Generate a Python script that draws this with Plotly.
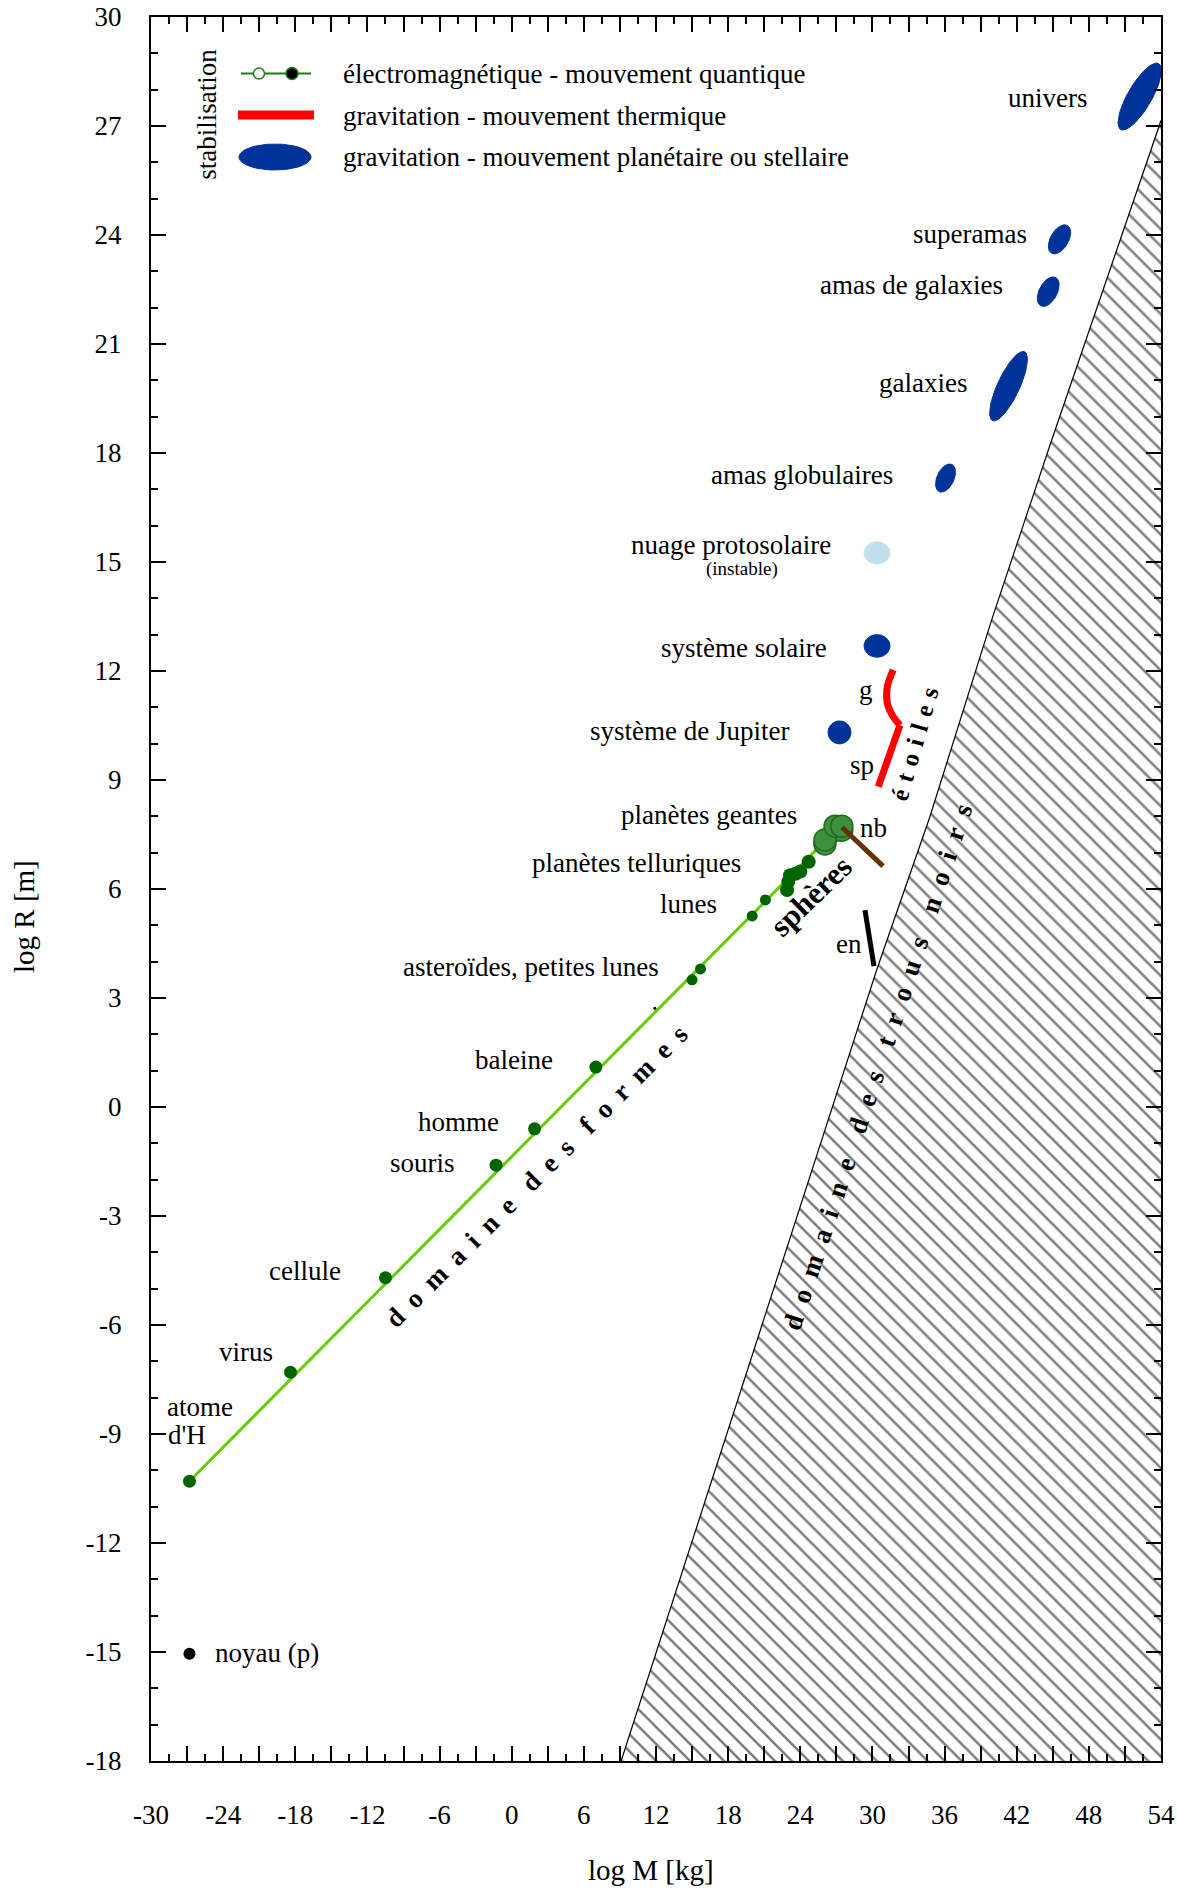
import numpy as np
import plotly.graph_objects as go

# ---------------- data ----------------
X_RANGE = [-30, 54]
Y_RANGE = [-18, 30]
x_tick_vals = list(range(-30, 55, 3))
x_tick_text = [str(v) if v % 6 == 0 else "" for v in x_tick_vals]
y_tick_vals = list(range(-18, 31, 3))
y_tick_text = [str(v) for v in y_tick_vals]

# line of "forms" (electromagnetic stabilisation)
forms_line_M = [-26.8, 26.3]
forms_line_R = [-10.3, 7.4]

forms_names = ["atome d'H", "virus", "cellule", "souris", "homme", "baleine"]
forms_M = [-26.8, -18.4, -10.5, -1.3, 1.9, 7.0]
forms_R = [-10.3, -7.3, -4.7, -1.6, -0.6, 1.1]

small_M = [15.0, 15.7, 20.0, 21.1]
small_R = [3.5, 3.8, 5.26, 5.7]
tiny_M = [11.9]
tiny_R = [2.72]

telluric_M = [22.9, 23.0, 23.15, 23.6, 24.0, 24.7]
telluric_R = [5.97, 6.2, 6.38, 6.42, 6.48, 6.75]

giant_M = [26.05, 26.9, 27.45]
giant_R = [7.35, 7.73, 7.73]

# stars (thermal motion)
stars_g_M = [31.73, 31.24, 31.24, 31.73, 32.29]
stars_g_R = [12.03, 11.57, 11.11, 10.74, 10.51]
stars_sp_M = [32.29, 31.46, 30.49]
stars_sp_R = [10.51, 9.73, 8.82]
nb_M = [27.47, 30.88]
nb_R = [7.70, 6.63]
en_M = [29.38, 29.6, 30.13]
en_R = [5.42, 4.95, 3.88]

# gravitational systems (ellipses)
ell_names = ["univers", "superamas", "amas de galaxies", "galaxies",
             "amas globulaires", "nuage protosolaire", "système solaire",
             "système de Jupiter"]
ell_M = [52.23, 45.56, 44.62, 41.32, 36.08, 30.38, 30.38, 27.26]
ell_R = [27.81, 23.88, 22.44, 19.84, 17.31, 15.25, 12.69, 10.31]

# black holes domain boundary
bh_M = [9.1, 30.35, 34.78, 39.91, 44.77, 54.0]
bh_R = [-18.0, 3.77, 7.99, 13.40, 18.22, 27.15]

noyau_M = [-26.8]
noyau_R = [-15.05]

# ---------------- styles ----------------
OFF = 0  # page body margin (removed by post_script)
W, H = 1177, 1890
ML, MR, MT, MB = 151, 16, 17, 129
PW, PH = W - ML - MR, H - MT - MB
PXX = PW / (X_RANGE[1] - X_RANGE[0])
PXY = PH / (Y_RANGE[1] - Y_RANGE[0])

ell_a = [38, 16, 16, 38, 15, 13, 13, 11.5]
ell_b = [12, 9, 9, 11, 8.5, 11, 11.3, 11.5]
ell_ang = [60, 60, 62, 65, 65, 0, 0, 0]
BLUE = "#003399"
LIGHTBLUE = "#c0e0f0"
ell_col = [BLUE, BLUE, BLUE, BLUE, BLUE, LIGHTBLUE, BLUE, BLUE]

LIME = "#66cc00"
DKGREEN = "#006400"
FONT = "Liberation Serif"
LBL = 27


def px2data(x, y):
    """page pixel -> data coordinates"""
    return (X_RANGE[0] + (x - OFF - ML) / PXX,
            Y_RANGE[1] - (y - OFF - MT) / PXY)


def px2paper(x, y):
    return (x - OFF - ML) / PW, (H - (y - OFF) - MB) / PH


def ellipse(cm, cr, a, b, ang):
    t = np.linspace(0, 2 * np.pi, 73)
    th = np.radians(ang)
    dx = a * np.cos(th) * np.cos(t) - b * np.sin(th) * np.sin(t)
    dy = a * np.sin(th) * np.cos(t) + b * np.cos(th) * np.sin(t)
    return cm + dx / PXX, cr + dy / PXY


fig = go.Figure()

# hatched black-hole domain
fig.add_trace(go.Scatter(
    x=bh_M + [X_RANGE[1], bh_M[0]], y=bh_R + [Y_RANGE[0], Y_RANGE[0]],
    fill="toself", mode="lines", line=dict(width=0, color="black"),
    fillcolor="white",
    fillpattern=dict(shape="\\", fgcolor="black", bgcolor="white", size=12, solidity=0.22),
    hoverinfo="skip"))
fig.add_trace(go.Scatter(x=bh_M, y=bh_R, mode="lines",
                         line=dict(color="black", width=1.2), hoverinfo="skip"))

# forms line and points
fig.add_trace(go.Scatter(x=forms_line_M, y=forms_line_R, mode="lines",
                         line=dict(color=LIME, width=3)))
fig.add_trace(go.Scatter(x=forms_M, y=forms_R, mode="markers",
                         marker=dict(color=DKGREEN, size=13)))
fig.add_trace(go.Scatter(x=small_M, y=small_R, mode="markers",
                         marker=dict(color=DKGREEN, size=11)))
fig.add_trace(go.Scatter(x=tiny_M, y=tiny_R, mode="markers",
                         marker=dict(color="black", size=3)))
fig.add_trace(go.Scatter(x=telluric_M, y=telluric_R, mode="markers",
                         marker=dict(color=DKGREEN, size=14)))
# giant planets (double discs)
off = 4 / PXY
fig.add_trace(go.Scatter(x=giant_M, y=[r - off for r in giant_R], mode="markers",
                         marker=dict(color="#3f8f3f", size=22,
                                     line=dict(color="#1e6e1e", width=1.5))))
fig.add_trace(go.Scatter(x=giant_M, y=giant_R, mode="markers",
                         marker=dict(color="#3f8f3f", size=22,
                                     line=dict(color="#1e6e1e", width=1.5))))

# stars
fig.add_trace(go.Scatter(x=stars_g_M, y=stars_g_R, mode="lines",
                         line=dict(color="red", width=7, shape="spline")))
fig.add_trace(go.Scatter(x=stars_sp_M, y=stars_sp_R, mode="lines",
                         line=dict(color="red", width=7)))
fig.add_trace(go.Scatter(x=nb_M, y=nb_R, mode="lines",
                         line=dict(color="#663300", width=5)))
fig.add_trace(go.Scatter(x=en_M, y=en_R, mode="lines",
                         line=dict(color="black", width=5)))

# ellipses
for m, r, a, b, ang, c in zip(ell_M, ell_R, ell_a, ell_b, ell_ang, ell_col):
    ex, ey = ellipse(m, r, a, b, ang)
    fig.add_trace(go.Scatter(x=ex, y=ey, mode="lines", fill="toself",
                             fillcolor=c, line=dict(color=c, width=1)))

# noyau
fig.add_trace(go.Scatter(x=noyau_M, y=noyau_R, mode="markers",
                         marker=dict(color="black", size=12)))

# ---------------- custom legend ----------------
lx0, ly = px2data(241, 73.6)
lx1, _ = px2data(311, 73.6)
fig.add_trace(go.Scatter(x=[lx0, lx1], y=[ly, ly], mode="lines",
                         line=dict(color="#1e7a1e", width=2)))
ox, _ = px2data(259, 73.6)
fx, _ = px2data(292, 73.6)
fig.add_trace(go.Scatter(x=[ox], y=[ly], mode="markers",
                         marker=dict(color="white", size=11, line=dict(color="#1e7a1e", width=1.5))))
fig.add_trace(go.Scatter(x=[fx], y=[ly], mode="markers",
                         marker=dict(color="black", size=12, line=dict(color="#1e7a1e", width=1.5))))
rx0, ry = px2data(238, 115)
rx1, _ = px2data(314, 115)
fig.add_trace(go.Scatter(x=[rx0, rx1], y=[ry, ry], mode="lines",
                         line=dict(color="red", width=9)))
bx, by = px2data(275, 157)
ex, ey = ellipse(bx, by, 36, 13, 0)
fig.add_trace(go.Scatter(x=ex, y=ey, mode="lines", fill="toself",
                         fillcolor=BLUE, line=dict(color=BLUE, width=1)))

annots = []


def label(text, xs, ys, size=LBL, anchor="center", angle=0, bold=False, shadow=None):
    m, r = px2data(xs * 1177 / 976, ys * 1177 / 976)
    f = dict(family=FONT, size=size, color="black")
    if bold:
        f["weight"] = "bold"
    if shadow:
        f["shadow"] = shadow
    annots.append(dict(x=m, y=r, xref="x", yref="y", text=text, showarrow=False,
                       xanchor=anchor, yanchor="middle", textangle=angle, font=f))


legend_texts = ["électromagnétique - mouvement quantique",
                "gravitation - mouvement thermique",
                "gravitation - mouvement planétaire ou stellaire"]
for t, ys in zip(legend_texts, [61, 96, 130]):
    label(t, 283, ys, anchor="left")
label("stabilisation", 171, 95, angle=-90)

# object labels (positions)
label("univers", 869, 81)
label("superamas", 804, 194)
label("amas de galaxies", 756, 236)
label("galaxies", 765, 318)
label("amas globulaires", 665, 394)
label("nuage protosolaire", 606, 452)
label("(instable)", 615, 472, size=19)
label("système solaire", 617, 537)
label("système de Jupiter", 572, 606)
label("g", 718, 572)
label("sp", 715, 634)
label("planètes geantes", 588, 676)
label("nb", 724, 687)
label("planètes telluriques", 528, 716)
label("lunes", 571, 750)
label("en", 704, 783)
label("asteroïdes, petites lunes", 440, 802)
label("baleine", 426, 879)
label("homme", 380, 930)
label("souris", 350, 964)
label("cellule", 253, 1054)
label("virus", 204, 1121)
label("atome", 166, 1167)
label("d'H", 138, 1190, anchor="left")
label("noyau (p)", 221, 1371)

NB = "\u00a0"
TH = "\u2009"


def spaced(words, g, w):
    return (w).join(g.join(word) for word in words)


label(spaced(["domaine", "des", "formes"], NB + TH, NB * 3), 445, 975, size=27, angle=-45, bold=True)
label(spaced(["domaine", "des", "trous", "noirs"], NB * 2, NB * 4), 728, 885, size=27, angle=-71.7,
      bold=True, shadow="0px 0px 3px white")
label(spaced(["étoiles"], NB + "\u200a", NB), 758, 617, size=25, angle=-74, bold=True)
label("sphères", 672, 743, size=31, angle=-44, bold=True)

# axis titles
tx, ty = px2paper(651, 1870)
annots.append(dict(x=tx, y=ty, xref="paper", yref="paper",
                   text="log M [kg]", showarrow=False, xanchor="center", yanchor="middle",
                   font=dict(family=FONT, size=29, color="black")))
tx, ty = px2paper(24, 917)
annots.append(dict(x=tx, y=ty, xref="paper", yref="paper",
                   text="log R [m]", showarrow=False, xanchor="center", yanchor="middle",
                   textangle=-90, font=dict(family=FONT, size=29, color="black")))

axis_common = dict(showline=True, linecolor="black", linewidth=2, mirror="ticks",
                   ticks="inside", ticklen=15, tickwidth=2, tickcolor="black",
                   showgrid=False, zeroline=False, ticklabeloverflow="allow",
                   automargin=False,
                   tickfont=dict(family=FONT, size=27, color="black"))

fig.update_xaxes(range=X_RANGE, tickmode="array", tickvals=x_tick_vals, ticktext=x_tick_text,
                 minor=dict(ticks="inside", ticklen=7, tickwidth=1.5, dtick=1.5, tick0=-30,
                            tickcolor="black", showgrid=False),
                 ticklabelstandoff=29, **axis_common)
fig.update_yaxes(range=Y_RANGE, tickmode="array", tickvals=y_tick_vals, ticktext=y_tick_text,
                 minor=dict(ticks="inside", ticklen=7, tickwidth=1.5, dtick=1, tick0=-18,
                            tickcolor="black", showgrid=False),
                 ticklabelstandoff=22, **axis_common)

fig.update_layout(width=W, height=H, autosize=False,
                  margin=dict(l=ML, r=MR, t=MT, b=MB, pad=0, autoexpand=False),
                  plot_bgcolor="white", paper_bgcolor="white",
                  showlegend=False, annotations=annots)

fig.write_html("out.html", config={"displayModeBar": False},
               post_script="document.body.style.margin='0';document.body.style.overflow='hidden';")
